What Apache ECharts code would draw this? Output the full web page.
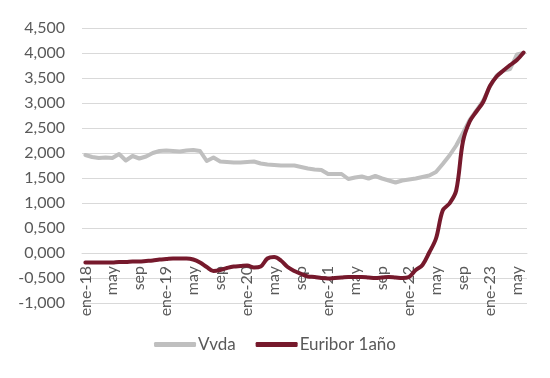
<!DOCTYPE html>
<html>
<head>
<meta charset="utf-8">
<script src="https://cdn.jsdelivr.net/npm/echarts@6/dist/echarts.min.js"></script>
<style>
html,body{margin:0;padding:0;background:#fff;}
#c{width:550px;height:378px;}
</style>
</head>
<body>
<div id="c"></div>
<script>
var categories = [
  'ene-18','feb','mar','abr','may','jun','jul','ago','sep','oct','nov','dic',
  'ene-19','feb','mar','abr','may','jun','jul','ago','sep','oct','nov','dic',
  'ene-20','feb','mar','abr','may','jun','jul','ago','sep','oct','nov','dic',
  'ene-21','feb','mar','abr','may','jun','jul','ago','sep','oct','nov','dic',
  'ene-22','feb','mar','abr','may','jun','jul','ago','sep','oct','nov','dic',
  'ene-23','feb','mar','abr','may','jun'
];
var vvda = [
  1.96,1.92,1.90,1.91,1.90,1.98,1.85,1.94,1.89,1.93,2.00,2.04,
  2.05,2.04,2.03,2.05,2.06,2.04,1.84,1.91,1.83,1.82,1.81,1.81,
  1.82,1.83,1.79,1.77,1.76,1.75,1.75,1.75,1.72,1.69,1.67,1.66,
  1.58,1.58,1.58,1.48,1.51,1.53,1.49,1.54,1.49,1.45,1.41,1.45,
  1.47,1.49,1.52,1.55,1.62,1.78,1.95,2.15,2.40,2.66,2.85,3.05,
  3.33,3.55,3.65,3.68,3.97,4.00
];
var euribor = [
  -0.19,-0.19,-0.19,-0.19,-0.19,-0.18,-0.18,-0.17,-0.17,-0.16,-0.15,-0.13,
  -0.12,-0.11,-0.11,-0.11,-0.13,-0.19,-0.28,-0.36,-0.34,-0.30,-0.27,-0.26,
  -0.25,-0.29,-0.27,-0.11,-0.08,-0.15,-0.28,-0.36,-0.42,-0.47,-0.48,-0.50,
  -0.51,-0.50,-0.49,-0.48,-0.48,-0.48,-0.49,-0.50,-0.49,-0.48,-0.49,-0.50,
  -0.48,-0.34,-0.24,0.01,0.29,0.85,0.99,1.25,2.23,2.63,2.83,3.02,
  3.34,3.53,3.65,3.76,3.86,4.01
];
var yMin = -1, yMax = 4.5, yStep = 0.5;

var chart = echarts.init(document.getElementById('c'), null, {renderer:'canvas'});
var font = 'Lato, "Open Sans", sans-serif';
chart.setOption({
  animation: false,
  backgroundColor: '#ffffff',
  grid: {left: 82, right: 23, top: 28, bottom: 75, containLabel: false},
  legend: {
    bottom: 20,
    left: 'center',
    itemGap: 20,
    itemWidth: 42,
    itemHeight: 5,
    icon: 'roundRect',
    textStyle: {color: '#595959', fontSize: 17, fontFamily: font, padding: [0,0,0,-3]},
    data: ['Vvda', 'Euribor 1año']
  },
  xAxis: {
    type: 'category',
    data: categories,
    boundaryGap: true,
    position: 'bottom',
    offset: -50,
    axisLine: {show: true, onZero: false, lineStyle: {color: '#D9D9D9', width: 1}},
    axisTick: {show: false},
    axisLabel: {
      interval: 3,
      rotate: 90,
      margin: 13,
      color: '#595959',
      fontSize: 16,
      fontFamily: font
    },
    splitLine: {show: false}
  },
  yAxis: {
    type: 'value',
    min: yMin,
    max: yMax,
    interval: yStep,
    axisLine: {show: false},
    axisTick: {show: false},
    axisLabel: {
      margin: 17,
      color: '#595959',
      fontSize: 16,
      fontFamily: font,
      formatter: function (v) {
        var s = Math.abs(v).toFixed(3).replace('.', ',');
        return (v < 0 ? '-' : '') + s;
      }
    },
    splitLine: {lineStyle: {color: '#D9D9D9', width: 1}}
  },
  series: [
    {
      name: 'Vvda',
      type: 'line',
      data: vvda,
      showSymbol: false,
      symbol: 'none',
      lineStyle: {color: '#BFBFBF', width: 4, cap: 'round', join: 'round'},
      itemStyle: {color: '#BFBFBF'}
    },
    {
      name: 'Euribor 1año',
      type: 'line',
      data: euribor,
      showSymbol: false,
      symbol: 'none',
      smooth: 0.35,
      lineStyle: {color: '#76192C', width: 4, cap: 'round', join: 'round'},
      itemStyle: {color: '#76192C'}
    }
  ]
});
</script>
</body>
</html>
